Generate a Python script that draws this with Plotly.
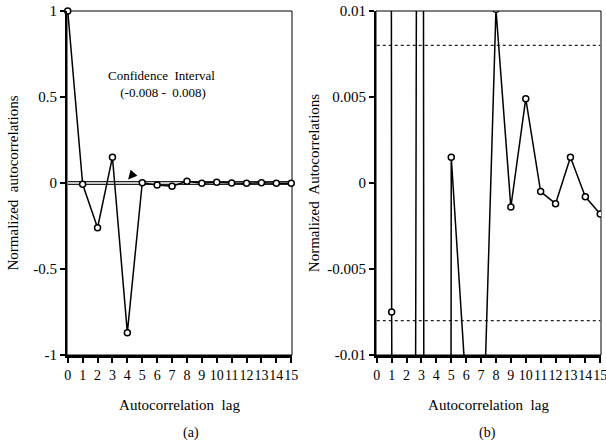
import plotly.graph_objects as go

# autocorrelation values
lags = list(range(16))
acf = [1.0, -0.0075, -0.26, 0.15, -0.87, 0.0015, -0.012, -0.019, 0.0101,
       -0.0014, 0.0049, -0.0005, -0.0012, 0.0015, -0.0008, -0.0018]
conf_lo, conf_hi = -0.008, 0.008
tick_vals = list(range(16))
tick_text = [str(t) for t in tick_vals]

FONT = "Liberation Serif, DejaVu Serif, serif"

W, H = 606, 447


def dx(px):
    return px / W


def dy(py):
    return 1 - py / H


fig = go.Figure()

# (a) full scale: the +-0.008 band collapses to a heavy line at zero
# (b) zoomed scale: band drawn as dotted lines, curve clipped to the axes
for xa, ya, clip, band in [("x", "y", False, "solid"), ("x2", "y2", True, "dot")]:
    for c in (conf_lo, conf_hi):
        fig.add_trace(go.Scatter(x=[lags[0], lags[-1]], y=[c, c], mode="lines",
                                 line=dict(color="#222", width=1.2, dash=band),
                                 xaxis=xa, yaxis=ya, showlegend=False))
    fig.add_trace(go.Scatter(x=lags, y=acf, mode="lines+markers", cliponaxis=clip,
                             line=dict(color="black", width=1.5),
                             marker=dict(symbol="circle", size=6, color="white",
                                         line=dict(color="black", width=1.5)),
                             xaxis=xa, yaxis=ya, showlegend=False))

xcommon = dict(range=[-0.05, 15.05], tickvals=tick_vals, ticktext=tick_text,
               tickangle=0, automargin=False, ticklabeloverflow="allow",
               ticks="outside", ticklen=5, tickwidth=1.5, tickcolor="black",
               showline=True, linewidth=3, linecolor="black", showgrid=False,
               zeroline=False,
               title=dict(text="Autocorrelation  lag", standoff=18,
                          font=dict(size=15, family=FONT)),
               tickfont=dict(size=14, family=FONT))
ycommon = dict(ticks="outside", ticklen=5, tickwidth=1.5, tickcolor="black",
               automargin=False,
               showline=True, linewidth=2, linecolor="black", showgrid=False,
               zeroline=False, tickfont=dict(size=15, family=FONT))

ydom = [dy(355), dy(11)]

fig.update_layout(
    width=W, height=H,
    margin=dict(l=0, r=0, t=0, b=0),
    paper_bgcolor="white", plot_bgcolor="white",
    font=dict(family=FONT, color="black", size=13),
    xaxis=dict(domain=[dx(67), dx(292)], anchor="y", **xcommon),
    yaxis=dict(domain=ydom, anchor="x", range=[-1, 1],
               tickvals=[-1, -0.5, 0, 0.5, 1], ticktext=["-1", "-0.5", "0", "0.5", "1"],
               title=dict(text="Normalized  autocorrelations", standoff=11,
                          font=dict(size=15, family=FONT)),
               **ycommon),
    xaxis2=dict(domain=[dx(376), dx(601)], anchor="y2", **xcommon),
    yaxis2=dict(domain=ydom, anchor="x2", range=[-0.01, 0.01],
                tickvals=[-0.01, -0.005, 0, 0.005, 0.01],
                ticktext=["-0.01", "-0.005", "0", "0.005", "0.01"],
                title=dict(text="Normalized  Autocorrelations", standoff=4,
                           font=dict(size=15, family=FONT)),
                **ycommon),
)

# thin frame on top / right of each panel
for xr, yr in [("x domain", "y domain"), ("x2 domain", "y2 domain")]:
    fig.add_shape(type="rect", xref=xr, yref=yr, x0=0, x1=1, y0=0, y1=1,
                  line=dict(color="black", width=1), layer="below")

fig.add_annotation(x=0.42, y=0.788, xref="x domain", yref="y domain",
                   xanchor="center", yanchor="middle",
                   text="Confidence  Interval<br> (-0.008 -  0.008)",
                   showarrow=False, align="center", font=dict(size=13, family=FONT))
fig.add_annotation(x=4.05, y=0.02, xref="x", yref="y", text="",
                   showarrow=True, arrowhead=2, arrowsize=1.2, arrowwidth=1.5,
                   arrowcolor="black", ax=7, ay=-8)

fig.add_annotation(x=dx(181), y=dy(433), xref="paper", yref="paper", text="(a)",
                   yanchor="middle", showarrow=False, font=dict(size=14, family=FONT))
fig.add_annotation(x=dx(498), y=dy(433), xref="paper", yref="paper", text="(b)",
                   yanchor="middle", showarrow=False, font=dict(size=14, family=FONT))

# drop the browser's default 8px body margin so the figure fills the window
fig.write_html("out.html", config={"displayModeBar": False},
               post_script="document.body.style.margin='0';")
